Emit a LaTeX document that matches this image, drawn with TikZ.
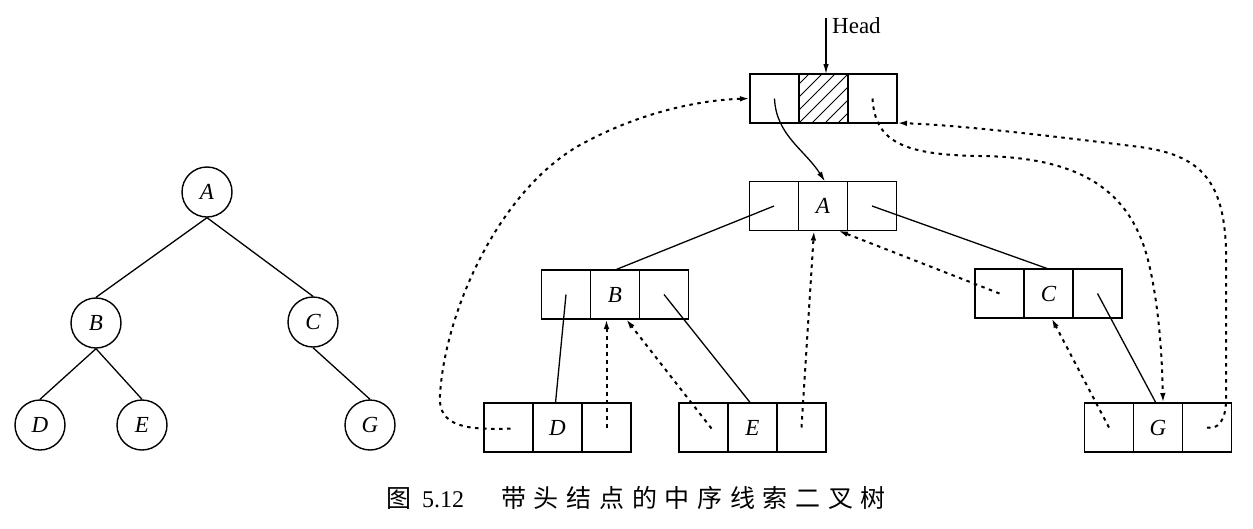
\documentclass[tikz,border=0pt]{standalone}
\usepackage{fontspec}
\setmainfont{Liberation Serif}
\newfontfamily\cjk{Noto Sans CJK SC}
\usetikzlibrary{arrows.meta,calc}
\begin{document}
\begin{tikzpicture}[x=1pt,y=-1pt,
  cell/.style={draw,line width=1.6pt,minimum width=49pt,minimum height=49pt,inner sep=0pt,outer sep=0pt,font=\fontsize{23}{26}\selectfont\itshape},
  tnode/.style={draw,circle,line width=1.4pt,minimum size=50pt,inner sep=0pt,font=\fontsize{23}{26}\selectfont\itshape},
  edge/.style={line width=1.3pt},
  thread/.style={line width=2pt,dash pattern=on 3.5pt off 4.5pt},
  tip/.style={-{Latex[length=10pt,width=5.5pt]}}]
\useasboundingbox (0,0) rectangle (1253,528);
\fill[white] (0,0) rectangle (1253,528);

% left tree
\node[tnode] (tA) at (207,192) {A};
\node[tnode] (tB) at (96,323) {B};
\node[tnode] (tC) at (313,322) {C};
\node[tnode] (tD) at (40,425) {D};
\node[tnode] (tE) at (142,425) {E};
\node[tnode] (tG) at (370,425) {G};
\draw[edge] (tA.south) -- (tB.north);
\draw[edge] (tA.south) -- (tC.north);
\draw[edge] (tB.south) -- (tD.north);
\draw[edge] (tB.south) -- (tE.north);
\draw[edge] (tC.south) -- (tG.north);

% records
\newcommand{\makerec}[4]{%
  \node[cell] (#1M) at (#2,#3) {#4};
  \node[cell] (#1L) at (#2-49,#3) {};
  \node[cell] (#1R) at (#2+49,#3) {};}
\makerec{h}{823.5}{98.5}{}
\makerec{a}{823}{206}{A}
\makerec{b}{615}{294.5}{B}
\makerec{c}{1048.5}{293.5}{C}
\makerec{d}{557.5}{427.5}{D}
\makerec{e}{752.5}{427.5}{E}
\makerec{g}{1158}{427.5}{G}

% hatching of head middle cell
\begin{scope}
  \clip (hM.south west) rectangle (hM.north east);
  \foreach \i in {-5,...,4} \draw[line width=0.9pt] ($(hM.south west)+(\i*13,0)$) -- ++(60,-60);
\end{scope}
\node[cell] at (hM) {};

% head pointer
\coordinate (hd) at (826,18);
\draw[edge,tip] (hd) -- (hd |- hM.north);
\node[anchor=base west,inner sep=0pt,font=\fontsize{23}{26}\selectfont] (headlab) at (832,33) {Head};

% solid child links
\draw[edge,tip] (hL.center) .. controls (776,135) and (805,150) .. ($(aM.north)+(2,0)$);
\draw[edge] (aL.center) -- (bM.north);
\draw[edge] (aR.center) -- (cM.north);
\draw[edge] (bL.center) -- ($(dM.north)+(-2,0)$);
\draw[edge] (bR.center) -- ($(eM.north)+(-2,0)$);
\draw[edge] (cR.center) -- ($(gM.north)+(-2,0)$);

% threads
\draw[thread,tip] ($(dL.center)+(2,1)$) .. controls (470,430) and (437,428) .. (440,395)
   .. controls (445,310) and (500,190) .. (580,145)
   .. controls (640,112) and (700,100) .. (hL.west);
\draw[thread,tip] (hR.center) .. controls (875,140) and (900,155) .. (980,156)
   .. controls (1080,157) and (1130,190) .. (1148,260)
   .. controls (1158,300) and (1162,350) .. ($(gM.north)+(5,0)$);
\draw[thread,tip] (gR.center) .. controls (1218,430) and (1226,420) .. (1226,400)
   -- (1226,250) .. controls (1224,180) and (1200,155) .. (1140,147)
   .. controls (1060,137) and (960,125) .. (hR.south east);
\draw[thread,tip] (dR.center) -- (dR.center |- bM.south);
\draw[thread,tip] ($(eL.center)+(8,1)$) -- ($(bM.south)+(11,0)$);
\draw[thread,tip] (eR.center) -- ($(aM.south)+(-9,0)$);
\draw[thread,tip] (cL.center) -- ($(aM.south)+(15,0)$);
\draw[thread,tip] (gL.center) -- ($(cM.south)+(3,0)$);

% caption
\node[anchor=base west,inner sep=0pt,font=\fontsize{25}{28}\selectfont\cjk] (cap1) at (386,507) {图};
\node[anchor=base west,inner sep=0pt,font=\fontsize{24}{28}\selectfont] (cap2) at (422,507) {5.12};
\node[anchor=base west,inner sep=0pt,font=\fontsize{25}{28}\selectfont\cjk] (cap3) at (501,507)
  {带\hspace{7.7pt}头\hspace{7.7pt}结\hspace{7.7pt}点\hspace{7.7pt}的\hspace{7.7pt}中\hspace{7.7pt}序\hspace{7.7pt}线\hspace{7.7pt}索\hspace{7.7pt}二\hspace{7.7pt}叉\hspace{7.7pt}树};
\end{tikzpicture}
\end{document}
